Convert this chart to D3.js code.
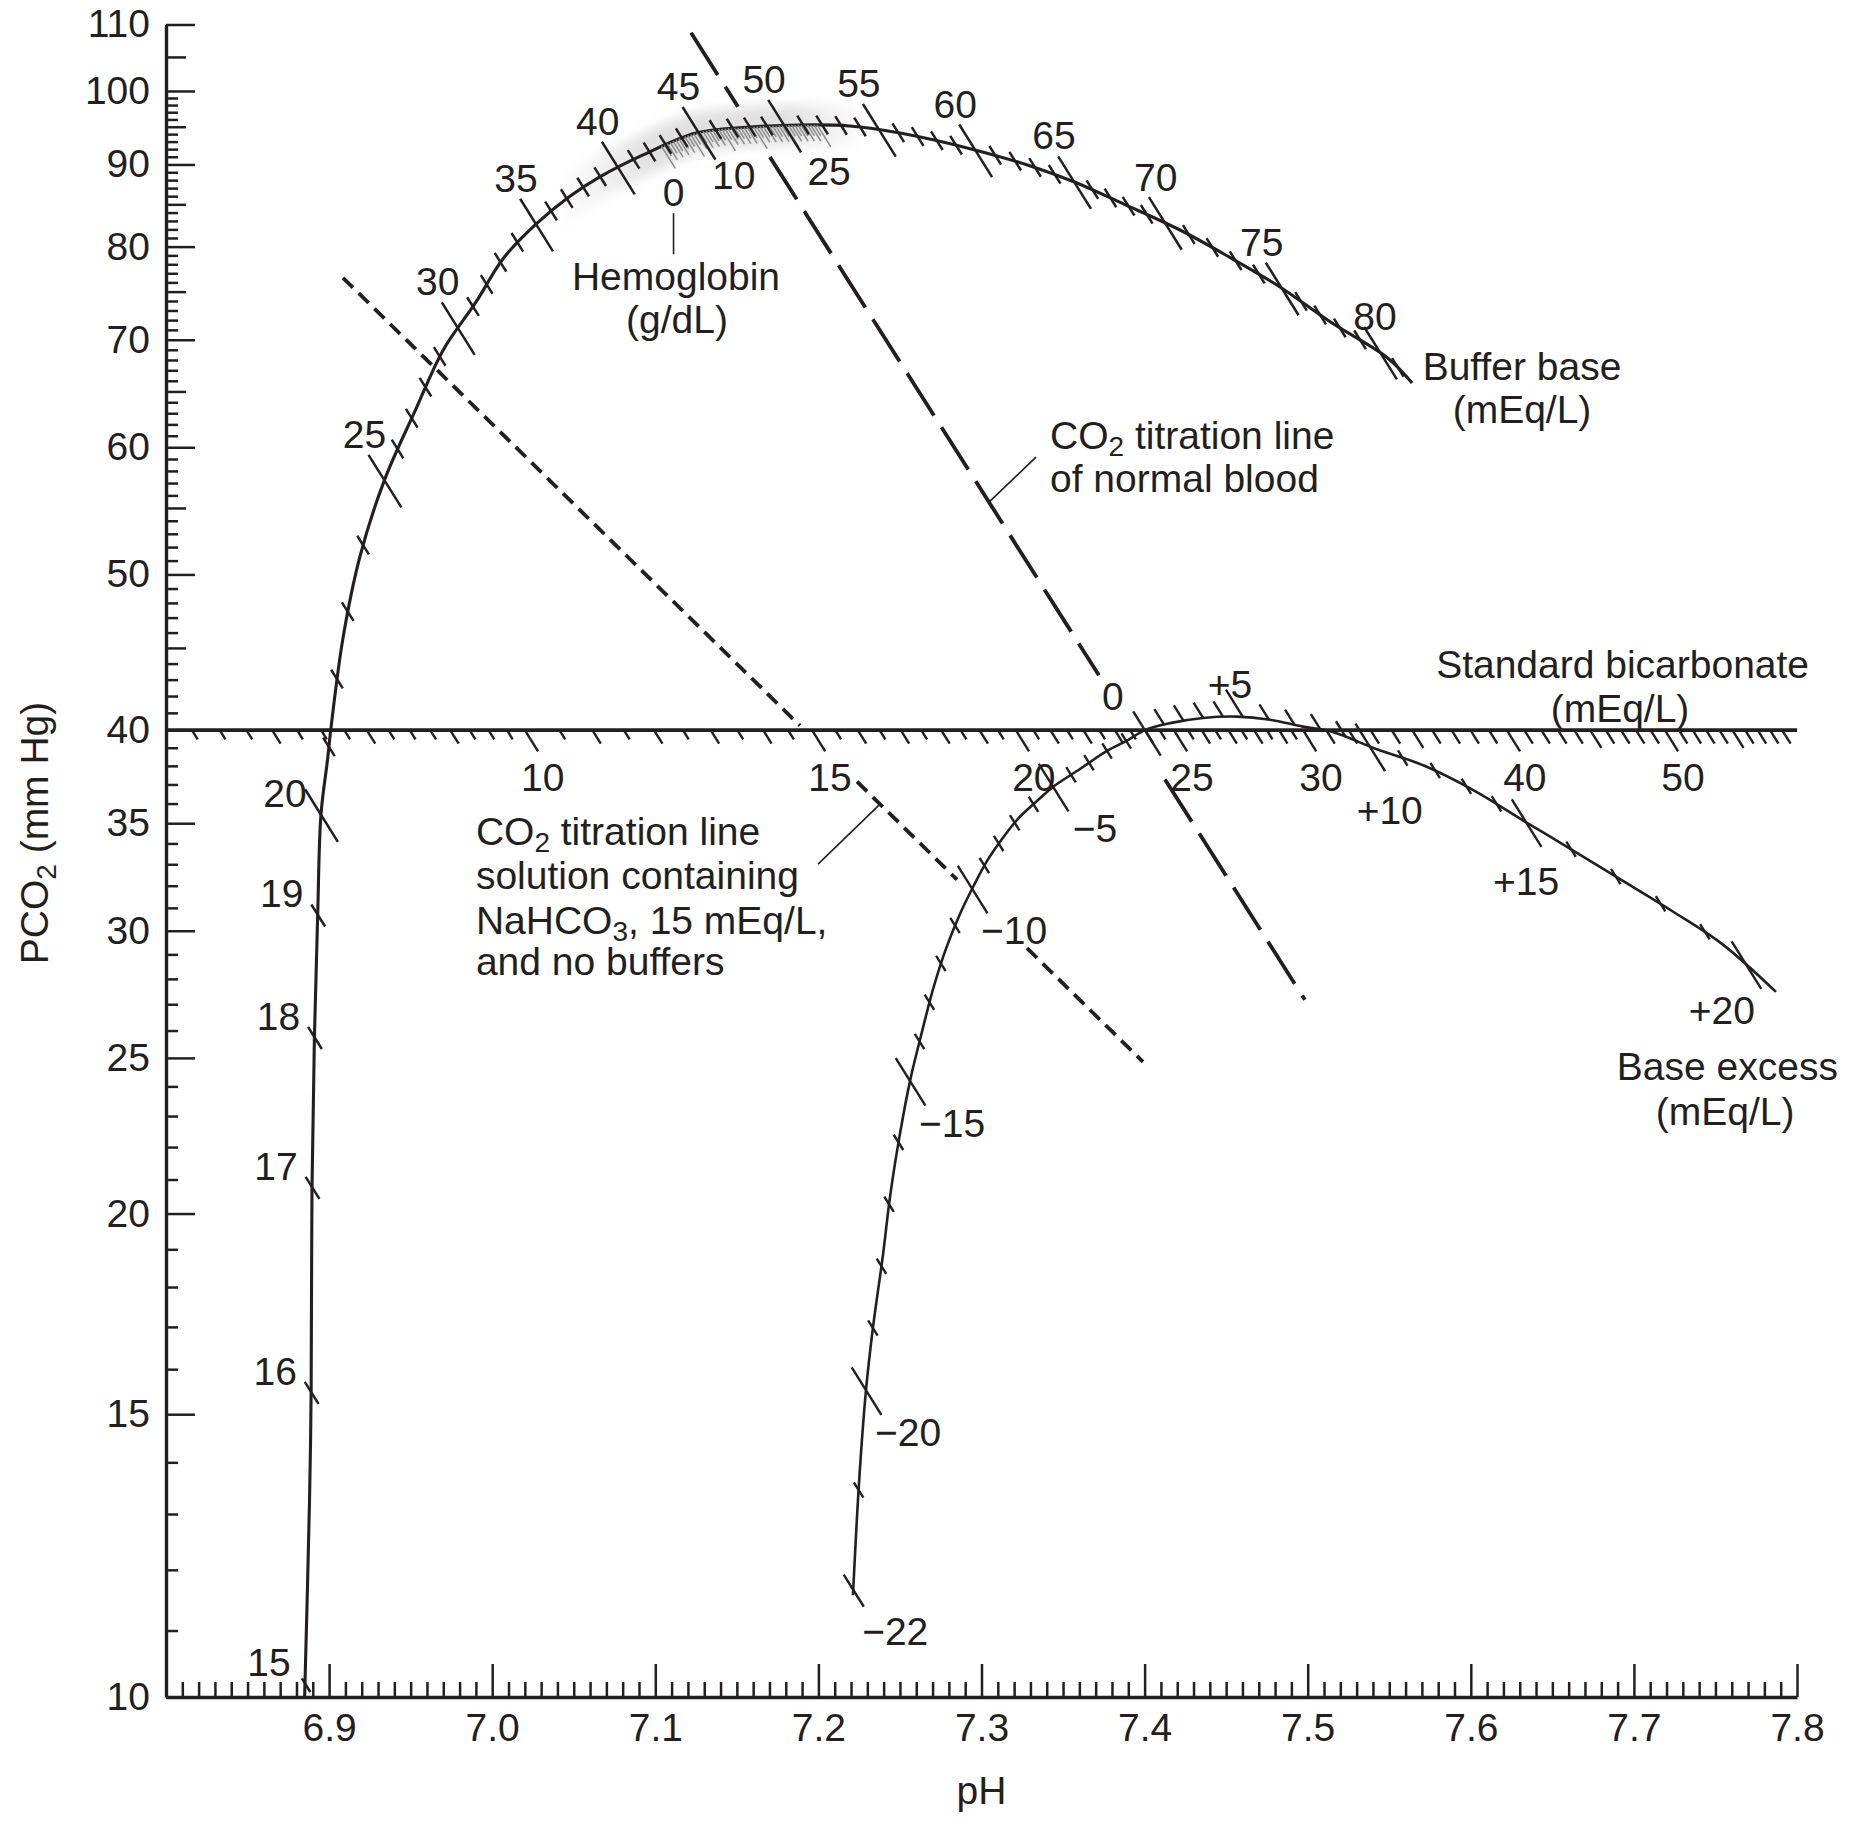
<!DOCTYPE html>
<html>
<head>
<meta charset="utf-8">
<script src="https://cdn.jsdelivr.net/npm/d3@7"></script>
<style>
  body { margin: 0; background: #fff; }
  svg text { font-family: "Liberation Sans", Arial, Helvetica, sans-serif; font-size: 39px; fill: #231f20; }
</style>
</head>
<body>
<svg id="chart"></svg>
<script>
// ---- axis ticks ----
const pcoTickLabels = [10, 15, 20, 25, 30, 35, 40, 50, 60, 70, 80, 90, 100, 110];
const phTickLabels = [6.9, 7.0, 7.1, 7.2, 7.3, 7.4, 7.5, 7.6, 7.7, 7.8];

// ---- curves, [pH, PCO2] ----
const bufferBaseCurve = [
    [6.885, 10.0], [6.888, 13.27], [6.889, 15.53], [6.8895, 20.69], [6.891, 25.76],
    [6.893, 30.69], [6.895, 35.42], [6.899, 38.31], [6.901, 40.0], [6.9085, 45.63],
    [6.919, 51.34], [6.934, 57.26], [6.953, 63.30], [6.970, 68.99], [6.990, 73.87],
    [7.007, 78.70], [7.027, 82.64], [7.047, 85.90], [7.066, 88.41], [7.0925, 91.24],
    [7.125, 94.15], [7.158, 94.97], [7.189, 95.24], [7.219, 95.11], [7.250, 94.15],
    [7.296, 91.90], [7.330, 89.81], [7.357, 87.77], [7.387, 85.06], [7.422, 81.9],
    [7.452, 78.8], [7.483, 75.5], [7.514, 71.8], [7.549, 68.2], [7.564, 65.8]
];

const baseExcessCurve = [
    [7.2212, 11.57], [7.2249, 13.59], [7.2292, 15.53], [7.2335, 17.0], [7.2396, 18.85],
    [7.2439, 20.48], [7.250, 22.42], [7.2562, 24.19], [7.2635, 25.95], [7.2703, 27.59],
    [7.2782, 29.23], [7.2868, 30.73], [7.2942, 31.85], [7.3034, 33.16], [7.3126, 34.22],
    [7.3224, 35.22], [7.334, 36.13], [7.3438, 36.87], [7.3604, 37.83], [7.3769, 38.82],
    [7.3892, 39.4], [7.4002, 40.0], [7.4156, 40.4], [7.4358, 40.7], [7.4567, 40.78],
    [7.4769, 40.6], [7.4971, 40.2], [7.5149, 39.9], [7.5419, 38.93], [7.5719, 37.99],
    [7.6026, 36.65], [7.6326, 35.11], [7.6633, 33.63], [7.6933, 32.22], [7.7234, 30.86],
    [7.754, 29.44], [7.7871, 27.48]
];

// ---- labelled scale marks on the curves, [value, pH, PCO2] ----
const bufferBaseTicks = [
    [15, 6.8834, 10.2], [16, 6.8889, 15.48], [17, 6.8889, 20.78], [18, 6.8907, 25.76],
    [19, 6.8932, 30.69], [20, 6.895, 35.42], [25, 6.9337, 57.26], [30, 6.979, 71.17],
    [35, 7.0262, 82.76], [40, 7.0771, 89.67], [45, 7.1274, 93.47], [50, 7.1789, 94.84],
    [55, 7.2366, 94.15], [60, 7.296, 91.90], [65, 7.3567, 87.77], [70, 7.4125, 82.88],
    [75, 7.4843, 75.41], [80, 7.5456, 69.09]
];

const baseExcessTicks = [
    [-22, 7.2212, 11.66], [-20, 7.2292, 15.53], [-15, 7.2562, 24.19], [-10, 7.2942, 31.85],
    [-5, 7.3438, 36.87], [0, 7.4002, 40.0], [5, 7.4603, 40.7], [10, 7.5388, 39.21],
    [15, 7.6345, 35.11], [20, 7.7687, 28.60]
];

const hemoglobinTicks = [[0, 7.1041, 92.3], [10, 7.1409, 94.6], [25, 7.1991, 95.2]];

// ---- standard bicarbonate line (PCO2 40) ----
const sbcPco2 = 40;
const sbcLabels = [10, 15, 20, 25, 30, 40, 50];
const sbcAnchorValues = [10, 50];
const sbcAnchorPh = [7.02, 7.719];

// ---- CO2 titration lines, ends [pH, PCO2] and breaks (pH ranges) ----
const normalBloodLine = [[7.1219, 108.7], [7.4983, 27.17]];
const normalBloodBreaks = [[7.1507, 7.1703], [7.372, 7.4125]];
const bicarbLine = [[6.9085, 76.5], [7.399, 24.86]];
const bicarbBreaks = [[7.1887, 7.2237], [7.285, 7.3279]];

// ---- layout ----
const width = 1854, height = 1824;
const margin = {top: 24.5, right: 57, bottom: 127, left: 166};
const ink = '#231f20';
const subSize = '28px';
const tickAngle = 58 * Math.PI / 180;
const ux = Math.cos(tickAngle), uy = Math.sin(tickAngle);

const svg = d3.select('#chart').attr('width', width).attr('height', height);
svg.append('rect').attr('width', width).attr('height', height).attr('fill', '#fff');

const x = d3.scaleLinear().domain([6.8, 7.8]).range([margin.left, width - margin.right]);
const y = d3.scaleLog().domain([10, 110]).range([height - margin.bottom, margin.top]);
const line = d3.line().x(d => x(d[0])).y(d => y(d[1])).curve(d3.curveCatmullRom.alpha(0.5));

const defs = svg.append('defs');
defs.append('filter').attr('id', 'haze').attr('x', '-20%').attr('y', '-50%').attr('width', '140%').attr('height', '200%')
    .append('feGaussianBlur').attr('stdDeviation', 6);
const grad = defs.append('linearGradient').attr('id', 'hbGrad')
    .attr('gradientUnits', 'userSpaceOnUse')
    .attr('x1', x(7.04)).attr('x2', x(7.23)).attr('y1', 0).attr('y2', 0);
[[0, 0], [0.3, 0.38], [0.75, 0.38], [1, 0]].forEach(([o, a]) =>
    grad.append('stop').attr('offset', o).attr('stop-color', '#b0b0b0').attr('stop-opacity', a));

// hemoglobin haze round the buffer base curve
svg.append('path').attr('d', line(bufferBaseCurve))
    .attr('fill', 'none').attr('stroke', 'url(#hbGrad)').attr('stroke-width', 40)
    .attr('filter', 'url(#haze)');

// ---- axes ----
function styleAxis(g, keepDomain) {
    g.attr('font-size', null).attr('font-family', null).attr('color', ink);
    g.selectAll('.tick line').attr('stroke-width', 2.5);
    if (keepDomain) g.select('.domain').attr('stroke-width', 3.4);
    else g.select('.domain').remove();
}

const yMedium = [45, 55, 65, 75, 85, 95, 105];
const yMinor = d3.range(11, 100).filter(v => !pcoTickLabels.includes(v) && !yMedium.includes(v));
const xMinor = d3.range(681, 780).filter(v => v % 10 !== 0).map(v => v / 100);

svg.append('g').attr('transform', `translate(${margin.left},0)`)
    .call(d3.axisLeft(y).tickValues(yMinor).tickSizeInner(-12).tickSizeOuter(0).tickFormat(''))
    .call(g => styleAxis(g, false));
svg.append('g').attr('transform', `translate(${margin.left},0)`)
    .call(d3.axisLeft(y).tickValues(yMedium).tickSizeInner(-20).tickSizeOuter(0).tickFormat(''))
    .call(g => styleAxis(g, false));
svg.append('g').attr('transform', `translate(${margin.left},0)`)
    .call(d3.axisLeft(y).tickValues(pcoTickLabels).tickSizeInner(-29).tickSizeOuter(0)
        .tickPadding(16).tickFormat(d3.format('d')))
    .call(g => styleAxis(g, true));

const xAxisY = height - margin.bottom;
svg.append('g').attr('transform', `translate(0,${xAxisY})`)
    .call(d3.axisBottom(x).tickValues(xMinor).tickSizeInner(-15).tickSizeOuter(0).tickFormat(''))
    .call(g => styleAxis(g, false));
svg.append('g').attr('transform', `translate(0,${xAxisY})`)
    .call(d3.axisBottom(x).tickValues(phTickLabels).tickSizeInner(-33).tickSizeOuter(0)
        .tickPadding(16).tickFormat(d3.format('.1f')))
    .call(g => styleAxis(g, true));

svg.append('text').attr('x', (x.range()[0] + x.range()[1]) / 2).attr('y', xAxisY + 107)
    .attr('text-anchor', 'middle').text('pH');

const yTitle = svg.append('text').attr('transform', 'translate(48,833) rotate(-90)').attr('text-anchor', 'middle');
yTitle.append('tspan').text('PCO');
yTitle.append('tspan').attr('dy', 8).style('font-size', subSize).text('2');
yTitle.append('tspan').attr('dy', -8).text(' (mm Hg)');

// ---- titration lines ----
function straightSegments(ends, breaks) {
    const [a, b] = ends;
    const at = ph => {
        const t = (ph - a[0]) / (b[0] - a[0]);
        return [ph, Math.pow(10, Math.log10(a[1]) + t * (Math.log10(b[1]) - Math.log10(a[1])))];
    };
    const cuts = [a[0], ...breaks.flat(), b[0]];
    const segs = [];
    for (let i = 0; i < cuts.length; i += 2) segs.push([at(cuts[i]), at(cuts[i + 1])]);
    return {segs, at};
}
const straight = d3.line().x(p => x(p[0])).y(p => y(p[1]));

const normal = straightSegments(normalBloodLine, normalBloodBreaks);
svg.append('g').selectAll('path').data(normal.segs).join('path')
    .attr('d', straight)
    .attr('fill', 'none').attr('stroke', ink).attr('stroke-width', 3.8)
    .attr('stroke-dasharray', '50 14');

const bicarb = straightSegments(bicarbLine, bicarbBreaks);
svg.append('g').selectAll('path').data(bicarb.segs).join('path')
    .attr('d', straight)
    .attr('fill', 'none').attr('stroke', ink).attr('stroke-width', 3.8)
    .attr('stroke-dasharray', '14 8');

// ---- standard bicarbonate line ----
const sbcScale = d3.scaleLog().domain(sbcAnchorValues).range(sbcAnchorPh);
const sbcY = y(sbcPco2);
svg.append('line').attr('x1', x.range()[0]).attr('x2', x.range()[1])
    .attr('y1', sbcY).attr('y2', sbcY).attr('stroke', ink).attr('stroke-width', 3.8);

function sbcLen(v) {
    if (sbcLabels.includes(v)) return 25;
    if (v % 5 === 0) return 21;
    if (Number.isInteger(v)) return 16;
    return 11;
}
const sbcValues = [...d3.range(6.25, 10, 0.25), ...d3.range(10, 30, 0.5), ...d3.range(30, 60, 1)]
    .filter(v => sbcScale(v) >= 6.8 && sbcScale(v) <= 7.8);
svg.append('g').selectAll('line').data(sbcValues).join('line')
    .attr('x1', d => x(sbcScale(d))).attr('y1', sbcY)
    .attr('x2', d => x(sbcScale(d)) + ux * sbcLen(d)).attr('y2', d => sbcY + uy * sbcLen(d))
    .attr('stroke', ink).attr('stroke-width', 2.4);
svg.append('g').selectAll('text').data(sbcLabels).join('text')
    .attr('x', d => x(sbcScale(d)) + 18).attr('y', sbcY + 47).attr('dy', '0.35em')
    .attr('text-anchor', 'middle').text(d => d);

// ---- curves ----
const bbPath = svg.append('path').attr('d', line(bufferBaseCurve))
    .attr('fill', 'none').attr('stroke', ink).attr('stroke-width', 3.1);
const bePath = svg.append('path').attr('d', line(baseExcessCurve))
    .attr('fill', 'none').attr('stroke', ink).attr('stroke-width', 2.6);

// value -> point on a curve through a piecewise scale over arc length
function curveScale(node, anchors) {
    const total = node.getTotalLength();
    const samples = d3.range(0, total + 0.5, 0.5).map(s => {
        const p = node.getPointAtLength(s);
        return [s, p.x, p.y];
    });
    const sOf = (px, py) => d3.least(samples, d => (d[1] - px) ** 2 + (d[2] - py) ** 2)[0];
    const scale = d3.scaleLinear()
        .domain(anchors.map(d => d[0]))
        .range(anchors.map(d => sOf(x(d[1]), y(d[2]))));
    return v => {
        const s = scale(v);
        if (s < -0.5 || s > total + 0.5) return null;
        return node.getPointAtLength(Math.max(0, Math.min(total, s)));
    };
}

function drawTicks(g, pointAt, values, lengths, color, w) {
    const data = values.map(v => ({v, p: pointAt(v), l: lengths(v)})).filter(d => d.p);
    g.selectAll('line').data(data).join('line')
        .attr('x1', d => d.p.x - ux * d.l[0]).attr('y1', d => d.p.y - uy * d.l[0])
        .attr('x2', d => d.p.x + ux * d.l[1]).attr('y2', d => d.p.y + uy * d.l[1])
        .attr('stroke', color).attr('stroke-width', w);
    return data;
}

const bbAt = curveScale(bbPath.node(), bufferBaseTicks);
const beAt = curveScale(bePath.node(), baseExcessTicks);
const hbAt = curveScale(bbPath.node(), hemoglobinTicks);

// hemoglobin scale: fine grey ticks under the curve
drawTicks(svg.append('g'), hbAt, d3.range(0, 25.5, 0.5), v => {
    if (v % 5 === 0) return [0, 26];
    if (Number.isInteger(v)) return [0, 19];
    return [0, 13];
}, '#8c8c8c', 1.5);

drawTicks(svg.append('g'), bbAt, d3.range(15, 82), v => {
    if (v === 15) return [6, 10];
    if (v < 20) return [12, 14];
    if (v % 5 === 0) return [30, 32];
    return [11, 11];
}, ink, 2.5);

drawTicks(svg.append('g'), beAt, d3.range(-22, 21), v => {
    const major = v % 5 === 0;
    if (v > 0 && v < 10) return [major ? 32 : 18, 0];
    if (v === -22) return [18, 20];
    if (v === 0) return [22, 30];
    return major ? [27, 29] : [9, 9];
}, ink, 2.4);

// ---- curve labels ----
function bbOffset(v) {
    if (v <= 20) return [-36, -21];
    if (v === 70) return [-9, -45];
    if (v === 80) return [-5, -36];
    return [-20, -46];
}
function beOffset(v) {
    if (v < 0) return [42, 42];
    if (v === 0) return [-32, -34];
    if (v === 5) return [-13, -32];
    if (v === 10) return [20, 64];
    if (v === 15) return [0, 59];
    return [-24, 46];
}
function placeLabels(pointAt, values, offset, fmt) {
    svg.append('g').selectAll('text').data(values).join('text')
        .attr('x', d => pointAt(d).x + offset(d)[0])
        .attr('y', d => pointAt(d).y + offset(d)[1])
        .attr('dy', '0.35em').attr('text-anchor', 'middle')
        .text(fmt);
}
placeLabels(bbAt, bufferBaseTicks.map(d => d[0]), bbOffset, d => d);
placeLabels(beAt, baseExcessTicks.map(d => d[0]), beOffset,
    d => d > 0 ? '+' + d : d < 0 ? '\u2212' + Math.abs(d) : '0');
placeLabels(hbAt, hemoglobinTicks.map(d => d[0]), () => [12, 46], d => d);

// ---- annotations (placed in data coordinates) ----
function annotPlain(ph, pco2, anchor, s) {
    return svg.append('text').attr('x', x(ph)).attr('y', y(pco2)).attr('text-anchor', anchor).text(s);
}
function annotSub(ph, pco2, anchor, before, sub, after) {
    const t = svg.append('text').attr('x', x(ph)).attr('y', y(pco2)).attr('text-anchor', anchor);
    t.append('tspan').text(before);
    t.append('tspan').style('font-size', subSize).attr('dy', 7).text(sub);
    t.append('tspan').attr('dy', -7).text(after);
    return t;
}

const hb0 = hbAt(0);
svg.append('line').attr('x1', hb0.x + 12).attr('x2', hb0.x + 12)
    .attr('y1', hb0.y + 67).attr('y2', hb0.y + 108).attr('stroke', ink).attr('stroke-width', 1.6);
annotPlain(7.1127, 75.2, 'middle', 'Hemoglobin');
annotPlain(7.1133, 70.7, 'middle', '(g/dL)');

annotPlain(7.6314, 66.07, 'middle', 'Buffer base');
annotPlain(7.6314, 62.13, 'middle', '(mEq/L)');

const nbAnchor = normal.at(7.3046);
svg.append('line')
    .attr('x1', x(nbAnchor[0])).attr('y1', y(nbAnchor[1]))
    .attr('x2', x(nbAnchor[0]) + 47).attr('y2', y(nbAnchor[1]) - 45)
    .attr('stroke', ink).attr('stroke-width', 1.6);
annotSub(7.342, 59.85, 'start', 'CO', '2', ' titration line');
annotPlain(7.342, 56.27, 'start', 'of normal blood');

annotPlain(7.8074, 43.1, 'end', 'Standard bicarbonate');
annotPlain(7.6915, 40.47, 'middle', '(mEq/L)');

const bcAnchor = bicarb.at(7.2378);
svg.append('line')
    .attr('x1', x(bcAnchor[0])).attr('y1', y(bcAnchor[1]))
    .attr('x2', x(bcAnchor[0]) - 62).attr('y2', y(bcAnchor[1]) + 60)
    .attr('stroke', ink).attr('stroke-width', 1.6);
annotSub(6.99, 33.93, 'start', 'CO', '2', ' titration line');
annotPlain(6.99, 31.85, 'start', 'solution containing');
annotSub(6.99, 29.87, 'start', 'NaHCO', '3', ', 15 mEq/L,');
annotPlain(6.99, 28.16, 'start', 'and no buffers');

annotPlain(7.8251, 24.23, 'end', 'Base excess');
annotPlain(7.7559, 22.71, 'middle', '(mEq/L)');
</script>
</body>
</html>
